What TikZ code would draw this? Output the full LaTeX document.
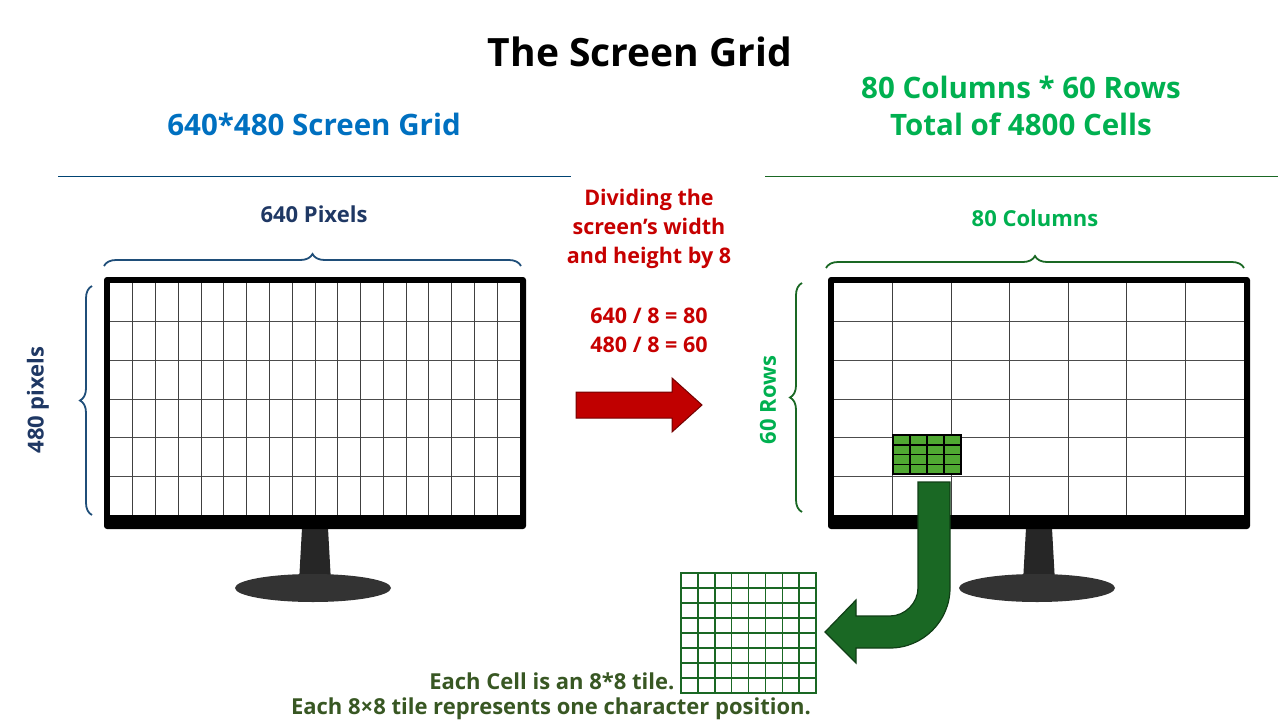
\documentclass[tikz,border=0pt]{standalone}
\usepackage{fontspec}
\setmainfont{Open Sans}
\usetikzlibrary{positioning, shapes.arrows, decorations.pathreplacing}
\definecolor{titleblue}{RGB}{0,112,192}
\definecolor{navy}{RGB}{31,56,100}
\definecolor{bracenavy}{RGB}{31,78,121}
\definecolor{brightgreen}{RGB}{0,176,80}
\definecolor{darkgreen}{RGB}{26,104,36}
\definecolor{textgreen}{RGB}{56,87,35}
\definecolor{cellgreen}{RGB}{80,168,50}
\definecolor{arrowred}{RGB}{192,0,0}

\newcommand{\monitor}[2]{% x offset, columns
  \begin{scope}[xshift=#1]
    \fill[black!85] (302,528) -- (328,528) -- (331,582) -- (299,582) -- cycle;
    \fill[black!80] (313,588) ellipse [x radius=78, y radius=14];
    \fill[black, rounded corners=3] (104,277) rectangle (526,529);
    \fill[white] (110,283) rectangle (520,515);
    \foreach \i in {1,...,5} \draw[black!70, line width=0.9] (110,283+\i*38.7) -- (520,283+\i*38.7);
    \pgfmathsetmacro{\cw}{410/#2}
    \pgfmathtruncatemacro{\nc}{#2-1}
    \foreach \i in {1,...,\nc} \draw[black!75, line width=0.9] (110+\i*\cw,283) -- (110+\i*\cw,515);
  \end{scope}}

\begin{document}
\begin{tikzpicture}[x=1pt, y=-1pt,
    heading/.style={font=\bfseries\fontsize{29.5}{37}\selectfont, align=center},
    label/.style={font=\bfseries\fontsize{22}{26}\selectfont, align=center},
    note/.style={font=\bfseries\fontsize{21.5}{29}\selectfont, align=center, text=arrowred!90!red},
    brace/.style={decorate, decoration={brace, amplitude=12}, line width=1.8}
  ]
  \useasboundingbox (0,0) rectangle (1280,720);

  % titles
  \node[font=\bfseries\fontsize{39}{46}\selectfont] (title) at (640,52) {The Screen Grid};
  \node[heading, text=titleblue] (lefthead) at (314,124) {640*480 Screen Grid};
  \node[heading, text=brightgreen] (righthead) at (1021,106) {80 Columns * 60 Rows\\Total of 4800 Cells};
  \draw[titleblue!60!black, line width=0.8] (58,176) -- (571,176);
  \draw[darkgreen, line width=0.8] (765,176) -- (1278,176);

  % monitors
  \monitor{0}{18}
  \monitor{724}{7}

  % braces and labels
  \draw[brace, bracenavy] (104,266) -- (521,266);
  \node[label, text=navy] (pixw) at (314,214) {640 Pixels};
  \draw[brace, bracenavy] (92,515) -- (92,286);
  \node[label, text=navy, rotate=90] (pixh) at (38,400) {480 pixels};
  \draw[brace, darkgreen] (826,268) -- (1244,268);
  \node[label, text=brightgreen] (cols) at (1035,218) {80 Columns};
  \draw[brace, darkgreen] (802,512) -- (802,283);
  \node[label, text=brightgreen, rotate=90] (rows) at (768,400) {60 Rows};

  % division note and arrow
  \node[note] (divide) at (649,229) {Dividing the\\screen’s width\\and height by 8};
  \node[note] (calc) at (649,330) {640 / 8 = 80\\480 / 8 = 60};
  \draw[fill=arrowred, draw=arrowred!60!black, line width=1]
    (576,392) -- (672,392) -- (672,378) -- (702,405) -- (672,432) -- (672,418) -- (576,418) -- cycle;

  % highlighted cell
  \fill[cellgreen] (893,435) rectangle (961,474);
  \foreach \i in {1,2,3} \draw[black, line width=1.5] (893+\i*17,435) -- (893+\i*17,474);
  \foreach \i in {1,2,3} \draw[black, line width=1.5] (893,435+\i*9.75) -- (961,435+\i*9.75);
  \draw[black, line width=2] (893,435) rectangle (961,474);

  % bent arrow
  \draw[fill=darkgreen, draw=darkgreen!60!black, line width=1.2]
    (918,482) -- (950,482) -- (950,588) .. controls (950,621) and (923,648) .. (890,648)
    -- (856,648) -- (856,663) -- (825,632) -- (856,600) -- (856,616) -- (890,616)
    .. controls (905,616) and (918,603) .. (918,588) -- cycle;

  % tile
  \foreach \i in {1,...,7} \draw[darkgreen, line width=1.5] (681+\i*16.875,573) -- (681+\i*16.875,693);
  \foreach \i in {1,...,7} \draw[darkgreen, line width=1.5] (681,573+\i*15) -- (816,573+\i*15);
  \draw[darkgreen, line width=1.5] (681,573) rectangle (816,693);

  % captions
  \node[label, text=textgreen, anchor=east] (cap1) at (678,681) {Each Cell is an 8*8 tile.};
  \node[label, text=textgreen] (cap2) at (551,709) {Each 8×8 tile represents one character position.};
\end{tikzpicture}
\end{document}
